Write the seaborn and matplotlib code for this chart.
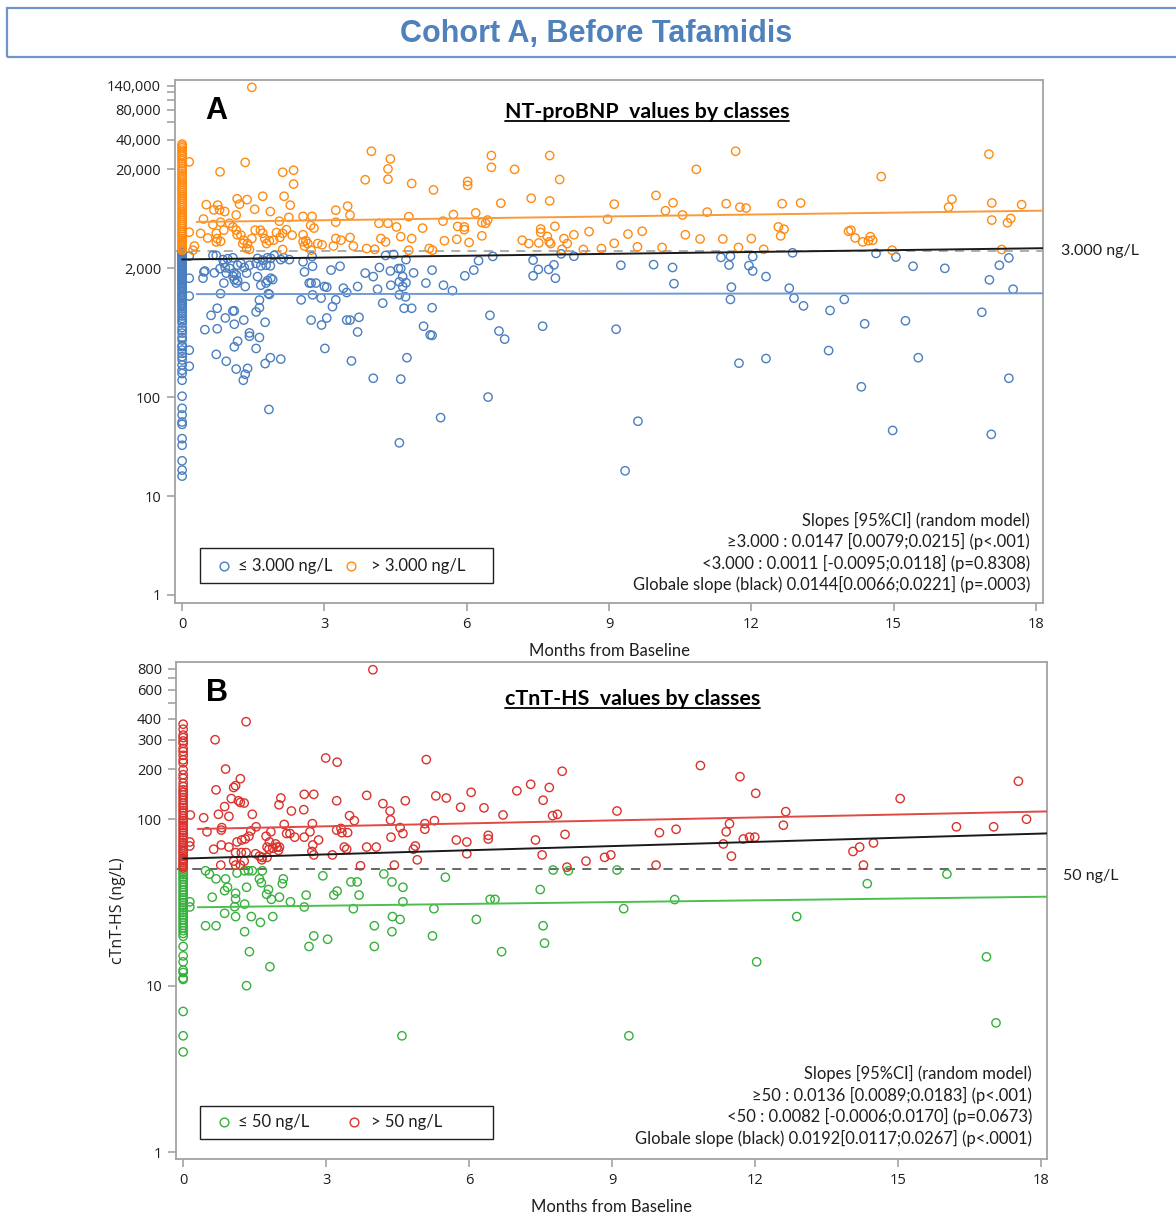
import numpy as np
import pandas as pd
import matplotlib
matplotlib.use("Agg")
import matplotlib.pyplot as plt
from matplotlib.lines import Line2D
from matplotlib.patches import Rectangle
from matplotlib.ticker import NullLocator
import matplotlib.transforms as mtransforms
import seaborn as sns

# ---------------------------------------------------------------- data
# Panel A : NT-proBNP (ng/L) against months from baseline
ntbnp_base_low = [2950, 2880, 2800, 2720, 2640, 2570, 2500, 2430, 2360, 2290, 2220, 2150,
                  2080, 2010, 1950, 1890, 1830, 1770, 1710, 1650, 1600, 1550, 1500, 1450,
                  1400, 1350, 1300, 1250, 1200, 1150, 1100, 1060, 1020, 980, 940, 900, 860,
                  820, 780, 740, 700, 660, 625, 590, 560, 505, 473, 443, 401, 377, 335, 323,
                  298, 277, 256, 237, 211, 187, 173, 148, 102, 77, 66, 56, 53, 38, 32.6,
                  22.7, 18.3, 15.9]
ntbnp_base_high = [36000, 34500, 33000, 31300, 29900, 28300, 27100, 25600, 24500, 23000,
                   21600, 20300, 19300, 18300, 17300, 16500, 15700, 14900, 14200, 13500,
                   12800, 12200, 11600, 11000, 10500, 10000, 9500, 9050, 8600, 8200, 7800,
                   7400, 7050, 6700, 6400, 6100, 5800, 5550, 5300, 5050, 4800, 4600, 4400,
                   4200, 4000, 3850, 3700, 3550, 3400, 3270, 3150, 3050]

ntbnp_low_month = [0.15, 0.65, 0.72, 0.86, 0.96, 1.07, 0.88, 0.46, 0.48, 0.68, 0.8, 0.91, 0.44,
                   0.93, 1.0, 1.09, 1.07, 1.14, 1.17, 1.24, 1.31, 1.1, 1.14, 1.17, 0.88, 1.33,
                   1.36, 1.42, 1.56, 1.59, 1.66, 1.7, 1.77, 1.8, 1.86, 1.87, 1.94, 2.08, 2.14,
                   2.26, 1.59, 1.66, 1.77, 1.8, 1.87, 1.91, 1.82, 1.84, 0.81, 0.74, 0.61, 0.48,
                   0.91, 0.74, 0.72, 0.93, 1.14, 1.29, 1.33, 1.38, 1.42, 1.42, 1.56, 1.56, 1.63,
                   1.63, 1.75, 1.75, 1.86, 2.08, 1.83, 1.07, 1.1, 1.1, 1.17, 1.1, 1.3, 1.63,
                   0.15, 0.15, 0.15, 0.15, 2.51, 2.55, 2.58, 2.68, 2.72, 2.74, 2.75, 2.75, 2.72,
                   2.82, 2.93, 2.94, 3.0, 3.05, 3.01, 3.05, 3.14, 3.17, 3.24, 3.33, 3.4, 3.47,
                   3.47, 3.54, 3.57, 3.7, 3.7, 3.73, 3.86, 4.03, 4.03, 4.12, 4.16, 4.23, 4.29,
                   4.39, 4.4, 4.46, 4.56, 4.58, 4.58, 4.61, 4.65, 4.65, 4.61, 4.68, 4.71, 4.72,
                   4.72, 4.74, 4.84, 4.88, 5.09, 5.14, 5.23, 5.27, 5.27, 5.27, 5.45, 5.51, 5.7,
                   5.96, 6.15, 6.25, 6.45, 6.49, 6.55, 6.68, 6.8, 7.4, 7.4, 7.51, 7.6, 7.73,
                   4.58, 7.84, 7.87, 7.99, 8.26, 9.15, 9.25, 9.34, 9.61, 9.94, 10.34, 10.37,
                   11.36, 11.53, 11.56, 11.95, 12.03, 12.03, 12.31, 11.58, 11.56, 11.74, 12.31,
                   12.8, 12.9, 13.1, 12.87, 13.63, 13.66, 13.96, 14.32, 14.39, 14.63, 15.05,
                   14.98, 15.25, 15.52, 15.41, 16.08, 16.86, 17.02, 17.23, 17.43, 17.52, 17.43,
                   17.06]
ntbnp_low_value = [2660, 2700, 2700, 2450, 2500, 2560, 2250, 1840, 1880, 1800, 1990, 2030, 1590,
                   1790, 2000, 1790, 1670, 1720, 2150, 2240, 2040, 1530, 1420, 1500, 1420, 1310,
                   1790, 2150, 2240, 2520, 2120, 2420, 2150, 2560, 2120, 2520, 2700, 2450, 2560,
                   2450, 1650, 1350, 1420, 1500, 1590, 1540, 1110, 1090, 1110, 790, 670, 480,
                   630, 490, 270, 230, 192, 148, 170, 195, 445, 412, 310, 725, 800,
                   955, 570, 218, 250, 242, 75, 740, 745, 545, 367, 322, 600, 400,
                   1590, 1050, 298, 205, 960, 2330, 1840, 1420, 1420, 2640, 2100, 1080, 600,
                   1420, 1000, 535, 1310, 630, 310, 1290, 1920, 820, 960, 2100, 1260, 1140,
                   600, 600, 232, 1310, 455, 640, 1790, 1650, 155, 1230, 2040, 890, 2700,
                   1880, 1350, 2760, 1990, 1460, 1080, 1990, 1650, 1310, 152, 790, 1030, 1430,
                   2450, 250, 790, 1800, 520, 1420, 425, 1920, 800, 420, 62, 1350, 1190,
                   1680, 1920, 2390, 100, 670, 2640, 465, 385, 2420, 1680, 1950, 520, 1950,
                   34.5, 2170, 1590, 2800, 2650, 485, 2150, 18, 57, 2180, 2040, 1400,
                   2580, 2160, 2650, 2130, 2630, 1880, 1650, 1290, 970, 220, 245,
                   1260, 1000, 835, 2870, 295, 750, 970, 127, 550, 2830, 2600,
                   46, 590, 250, 2100, 2000, 720, 1530, 2150, 2550, 1230, 155,
                   42]

ntbnp_high_month = [1.47, 0.15, 1.33, 0.8, 2.12, 2.35, 2.35, 3.99, 4.39, 4.34, 4.34, 3.86, 4.84,
                    5.3, 6.52, 6.52, 7.01, 6.02, 6.02, 7.75, 7.36, 7.75, 6.72, 1.16, 1.37, 1.21,
                    1.7, 2.15, 2.28, 1.53, 0.51, 0.75, 0.67, 0.9, 0.79, 1.14, 0.45, 0.65, 0.81,
                    1.86, 2.25, 2.55, 2.74, 3.24, 3.49, 3.54, 3.24, 2.71, 2.78, 4.15, 4.34, 4.52,
                    4.78, 5.07, 5.5, 5.72, 5.81, 5.95, 5.95, 6.19, 6.32, 6.4, 6.44, 6.32, 7.56,
                    7.56, 0.15, 0.39, 0.54, 0.72, 0.74, 0.72, 0.81, 0.88, 0.26, 0.23, 1.0, 1.07,
                    1.14, 1.16, 1.24, 1.3, 1.28, 1.38, 1.36, 1.42, 1.47, 1.54, 1.65, 1.7, 1.74,
                    1.78, 1.84, 1.93, 1.99, 2.06, 2.12, 2.2, 2.05, 2.12, 2.32, 2.55, 2.55, 2.58,
                    2.61, 2.65, 2.72, 2.86, 2.95, 3.19, 3.24, 3.35, 3.54, 3.61, 3.89, 4.06, 4.19,
                    4.29, 4.61, 4.84, 4.78, 5.21, 5.28, 5.53, 5.79, 6.05, 7.17, 7.31, 7.52, 7.96,
                    7.86, 7.7, 7.74, 7.77, 8.05, 8.12, 8.01, 8.26, 8.58, 8.46, 8.84, 8.97, 9.11,
                    9.11, 9.4, 9.6, 9.7, 9.99, 10.19, 10.35, 10.12, 10.55, 10.61, 10.84, 10.92,
                    11.07, 11.4, 11.47, 11.67, 11.76, 11.89, 11.73, 12.0, 12.26, 12.57, 12.69,
                    12.62, 12.65, 13.04, 14.05, 14.1, 14.19, 14.35, 14.51, 14.47, 14.56, 14.74,
                    14.97, 16.16, 16.23, 17.01, 17.07, 17.07, 17.4, 17.47, 17.28, 17.7]
ntbnp_high_value = [135000, 23800, 23500, 18900, 18700, 19600, 14200, 30500, 25500, 20200, 15900,
                    15700, 14400, 12400, 27600, 21000, 20000, 15100, 13800, 27600, 10200, 9600,
                    9100, 10100, 9900, 8900, 10700, 10700, 8700, 7900, 8800, 8700, 7800, 7500,
                    7800, 6920, 6300, 5530, 5850, 7500, 6550, 6700, 6700, 7740, 8500, 6900,
                    5850, 5430, 5100, 5700, 5700, 5240, 6660, 5100, 6000, 6990, 5300, 5240,
                    4920, 7260, 5800, 5700, 6150, 4260, 5000, 4600, 4640, 4510, 4050, 4520,
                    4000, 3700, 3750, 4860, 3360, 3050, 5700, 5240, 4860, 4370, 4330, 3850,
                    3560, 3560, 3170, 3100, 4000, 4860, 4860, 4520, 4000, 3560, 3800, 3850,
                    4600, 4100, 4520, 4920, 5990, 3100, 4330, 4370, 3710, 3360, 3800, 3560,
                    3050, 3560, 3460, 3360, 4000, 3850, 4100, 3360, 3170, 3110, 4000, 3700,
                    4180, 4000, 3050, 3170, 3050, 3800, 3930, 3650, 3850, 3560, 3610, 15800,
                    5320, 4200, 3700, 3560, 4000, 3560, 3110, 4370, 4700, 3100, 3170, 6270,
                    8900, 3580, 4440, 3300, 4740, 10900, 7640, 9200, 3250, 6920, 4370, 20000,
                    3960, 7400, 3960, 9000, 30500, 8300, 8130, 3250, 4000, 3110, 5240, 4970,
                    4260, 9000, 9150, 4740, 4860, 4060, 3700, 4180, 3800, 3840, 16900, 3050,
                    8300, 10000, 28500, 9150, 6150, 5770, 6380, 3100, 8800]

# Panel B : cTnT-HS (ng/L) against months from baseline
ctnt_base_low = [49.5, 48, 46.5, 45, 43.5, 42, 40.5, 39, 37.6, 36.3, 35, 33.8, 32.7, 31.5, 30.4,
                 29.4, 28.5, 27.5, 26.6, 25.7, 24.8, 23.9, 23, 22.2, 21.4, 20.6, 19.8, 17.2,
                 15.1, 13.9, 12.4, 12.0, 11.1, 10.9, 7.0, 5.0, 4.0]
ctnt_base_high = [372, 347, 320, 309, 295, 285, 266, 255, 242, 227, 218, 198, 185, 176, 165, 157,
                  150, 145, 140, 135, 130, 125, 121, 117, 113, 109, 105, 101, 98, 95, 92, 89,
                  86, 83, 80, 77.5, 75, 72.5, 70, 68, 66, 64, 62, 60, 58, 56.5, 55, 53.5, 52, 51]

ctnt_low_month = [0.14, 0.14, 0.47, 0.55, 0.69, 0.89, 0.87, 0.93, 1.13, 1.1, 1.1, 1.08, 1.1, 0.87,
                  0.47, 0.69, 0.61, 1.29, 1.33, 1.37, 1.45, 1.6, 1.64, 1.66, 1.75, 1.79, 1.85,
                  1.62, 1.43, 1.88, 2.02, 2.08, 2.1, 1.29, 1.29, 1.39, 1.82, 1.33, 2.25, 2.54,
                  2.58, 2.64, 2.74, 2.93, 3.03, 3.16, 3.23, 3.52, 3.65, 3.57, 3.69, 4.01, 4.01,
                  4.21, 4.38, 4.39, 4.38, 4.55, 4.61, 4.61, 5.26, 5.23, 5.5, 6.15, 6.44, 6.54,
                  6.68, 7.49, 7.55, 7.58, 7.76, 8.08, 9.1, 9.24, 10.31, 12.87, 14.35, 16.02,
                  12.03, 16.85, 17.05, 9.35, 4.59]
ctnt_low_value = [31.9, 29.7, 49, 46.8, 43.8, 43.8, 37.2, 39.0, 47.5, 35.9, 33.2, 29.8, 26, 27.2,
                  22.9, 22.9, 34, 49, 39, 49, 49, 43.8, 41.5, 49, 35.4, 37.8, 33,
                  24, 26, 26, 34, 41, 43.8, 30.9, 21.1, 16.0, 13.0, 10.0, 31.9, 29.7,
                  35, 17.2, 19.9, 45.7, 19.0, 35, 37, 42, 42, 29, 35, 22.9, 17.2,
                  46.9, 42, 26, 21.1, 25, 39, 31.9, 29, 19.9, 44.8, 25, 33, 33,
                  16, 37.8, 22.9, 18, 49.5, 49, 49.5, 29, 32.9, 26, 41, 46.8,
                  13.9, 14.9, 5.98, 5.0, 5.0]

ctnt_high_month = [3.98, 0.67, 1.32, 2.99, 3.23, 5.1, 0.89, 0.69, 1.2, 1.06, 1.1, 1.01, 1.16, 1.2,
                   1.28, 0.87, 0.74, 0.96, 0.15, 0.43, 0.5, 0.64, 0.81, 0.8, 0.8, 0.96, 0.79, 1.1,
                   1.06, 1.1, 1.2, 1.22, 1.28, 1.32, 1.13, 1.23, 1.3, 1.38, 1.42, 1.45, 1.53,
                   1.52, 1.6, 1.66, 1.65, 1.76, 1.74, 1.76, 1.8, 1.81, 1.84, 1.88, 1.94, 1.97,
                   2.0, 2.02, 2.05, 2.01, 2.12, 2.17, 2.24, 2.27, 2.34, 2.53, 2.54, 2.54, 2.66,
                   2.71, 2.72, 2.7, 2.74, 2.74, 2.84, 3.13, 3.22, 3.22, 3.31, 3.33, 3.38, 3.43,
                   3.45, 3.49, 3.59, 3.72, 3.85, 3.85, 4.05, 4.19, 4.34, 4.35, 4.36, 4.43, 4.55,
                   4.61, 4.66, 4.83, 4.87, 4.91, 5.07, 5.07, 5.27, 5.3, 5.52, 5.73, 5.82, 5.95,
                   5.95, 6.04, 6.31, 6.4, 6.4, 6.71, 7.0, 7.29, 7.39, 7.53, 7.55, 7.68, 7.75,
                   7.85, 7.95, 8.01, 8.05, 8.45, 8.84, 8.97, 9.1, 9.92, 9.99, 10.34, 11.33,
                   11.39, 11.46, 11.5, 11.75, 11.88, 11.99, 12.59, 12.64, 14.05, 14.19, 14.48,
                   14.27, 16.22, 17.0, 17.69, 10.85, 11.68, 12.01, 15.04, 17.52, 0.14, 0.14]
ctnt_high_value = [790, 300, 385, 233, 220, 228, 200, 150, 175, 155, 159, 133, 129, 126,
                   125, 119, 107, 104, 106, 102, 84, 66, 89, 86, 70, 68, 53, 63,
                   56, 53, 53, 63, 56, 63, 73, 75, 76, 79, 85, 107, 90,
                   62, 60, 59, 57, 59, 79, 68, 66, 73, 84, 67, 71, 68,
                   65, 68, 134, 122, 93, 82, 82, 112, 78, 114, 78, 141, 84,
                   94, 70, 64, 61, 141, 75, 61, 86, 129, 88, 83, 68, 66,
                   83, 105, 98, 52.5, 139, 68, 68, 124, 112, 99, 78, 53, 89,
                   82, 129, 66, 69, 57, 94, 87, 98, 138, 134, 75, 118, 73,
                   62, 145, 117, 80, 76, 106, 148, 162, 75, 61, 130, 155, 105,
                   107, 194, 81, 51.5, 56, 59, 61, 112, 53, 83, 87, 71,
                   84, 94, 60, 76, 78, 78, 92, 111, 64, 68, 72,
                   53, 90, 90, 100, 210, 180, 143, 133, 169, 69, 73]

# Mixed-model fits on the log scale: baseline level and slope per month
ntbnp_fit = {"high": (5860, 0.0147), "low": (1097, 0.0011), "all": (2460, 0.0144)}
ctnt_fit = {"high": (87, 0.0136), "low": (29.5, 0.0082), "all": (58, 0.0192)}

ntbnp_threshold = 3000
ctnt_threshold = 50

month_ticks = [0, 3, 6, 9, 12, 15, 18]
ntbnp_ticks = [1, 10, 100, 2000, 20000, 40000, 60000, 80000, 100000, 120000, 140000]
ntbnp_tick_labels = ["1", "10", "100", "2,000", "20,000", "40,000", "", "80,000", "", "", "140,000"]
ctnt_ticks = [1, 10, 100, 200, 300, 400, 500, 600, 700, 800]
ctnt_tick_labels = ["1", "10", "100", "200", "300", "400", "", "600", "", "800"]

ntbnp_classes = ["\u2264 3.000 ng/L", "> 3.000 ng/L"]
ctnt_classes = ["\u2264 50 ng/L", "> 50 ng/L"]

ntbnp_notes = ["Slopes [95%CI] (random model)",
               "\u22653.000 : 0.0147 [0.0079;0.0215] (p<.001)",
               "<3.000 : 0.0011 [-0.0095;0.0118] (p=0.8308)",
               "Globale slope (black) 0.0144[0.0066;0.0221] (p=.0003)"]
ctnt_notes = ["Slopes [95%CI] (random model)",
              "\u226550 : 0.0136 [0.0089;0.0183] (p<.001)",
              "<50 : 0.0082 [-0.0006;0.0170] (p=0.0673)",
              "Globale slope (black) 0.0192[0.0117;0.0267] (p<.0001)"]

# ---------------------------------------------------------------- style
sns.set_theme(style="white")
plt.rcParams["font.family"] = ["Lato", "DejaVu Sans"]
plt.rcParams["axes.linewidth"] = 1.3

BLUE, ORANGE = "#4a7ec1", "#ff8a12"
GREEN, RED = "#36b03c", "#d9322c"
SPINE = "#a3a3a3"
TEXT = "#1e1e1e"
TICK_FONT = ["Open Sans", "DejaVu Sans"]

fig = plt.figure(figsize=(11.76, 12.14), dpi=100)
ax_a = fig.add_axes([0.14881, 0.50329, 0.73810, 0.43081])
ax_b = fig.add_axes([0.14966, 0.04506, 0.74065, 0.40989])


def draw_panel(ax, base_low, base_high, low_t, low_v, high_t, high_v,
               c_low, c_high, fit, line_colors, thr, thr_color, xlim, ylim):
    rows = []
    for v in base_low:
        rows.append((0.0, v, "low"))
    for t, v in zip(low_t, low_v):
        rows.append((t, v, "low"))
    for v in base_high:
        rows.append((0.0, v, "high"))
    for t, v in zip(high_t, high_v):
        rows.append((t, v, "high"))
    df = pd.DataFrame(rows, columns=["month", "value", "group"])

    sns.scatterplot(data=df, x="month", y="value", hue="group",
                    palette={"low": c_low, "high": c_high}, s=36,
                    linewidth=1.0, legend=False, ax=ax, zorder=3)
    for coll in ax.collections:
        fc = coll.get_facecolors()
        coll.set_edgecolors(fc)
        coll.set_facecolors("none")

    ax.set_yscale("log")
    ax.set_xlim(*xlim)
    ax.set_ylim(*ylim)

    ax.axhline(thr, color=thr_color, lw=1.3, ls=(0, (5, 4)), zorder=2)

    grid = np.linspace(0, xlim[1], 60)
    for key, col, start in (("high", line_colors[0], 0.1),
                            ("low", line_colors[1], 0.1),
                            ("all", "#1a1a1a", 0.0)):
        level, slope = fit[key]
        g = grid[grid >= start]
        sns.lineplot(x=g, y=level * np.exp(slope * g), color=col, lw=1.4,
                     ax=ax, zorder=4)

    for side in ("left", "right", "top", "bottom"):
        ax.spines[side].set_color(SPINE)
        ax.spines[side].set_linewidth(1.3)
        ax.spines[side].set_visible(True)
    ax.yaxis.set_minor_locator(NullLocator())
    ax.set_xticks(month_ticks)
    ax.set_xticklabels([str(m) for m in month_ticks])
    ax.tick_params(axis="both", which="major", direction="out", length=6,
                   width=1.2, color=SPINE, labelcolor=TEXT, labelsize=10.5, pad=4,
                   bottom=True, left=True)
    ax.set_xlabel("Months from Baseline", fontsize=12, color=TEXT, labelpad=8)
    ax.set_ylabel("")


def class_legend(ax, labels, colors, px_to_axes, box, markers_x, texts_x, yc):
    # framed key drawn in axes coordinates from pixel positions
    x0, y0 = px_to_axes(box[0], box[3])
    x1, y1 = px_to_axes(box[2], box[1])
    ax.add_patch(Rectangle((x0, y0), x1 - x0, y1 - y0, transform=ax.transAxes,
                           facecolor="white", edgecolor="#202020", lw=1.0,
                           zorder=6, clip_on=False))
    for lab, col, mx, tx in zip(labels, colors, markers_x, texts_x):
        ax_mx, ax_y = px_to_axes(mx, yc)
        ax_tx, _ = px_to_axes(tx, yc)
        ax.add_line(Line2D([ax_mx], [ax_y], transform=ax.transAxes, marker="o",
                           linestyle="none", markerfacecolor="none",
                           markeredgecolor=col, markeredgewidth=1.0,
                           markersize=6.3, zorder=7))
        ax.text(ax_tx, ax_y, lab, transform=ax.transAxes, ha="left", va="center",
                fontsize=12, color=TEXT, zorder=7)


draw_panel(ax_a, ntbnp_base_low, ntbnp_base_high, ntbnp_low_month, ntbnp_low_value,
           ntbnp_high_month, ntbnp_high_value, BLUE, ORANGE, ntbnp_fit,
           ("#f99a3a", "#6f98d4"), ntbnp_threshold, "#a8a8a8",
           (-0.15, 18.15), (0.83, 160000))
ax_a.set_yticks(ntbnp_ticks)
ax_a.set_yticklabels(ntbnp_tick_labels)

draw_panel(ax_b, ctnt_base_low, ctnt_base_high, ctnt_low_month, ctnt_low_value,
           ctnt_high_month, ctnt_high_value, GREEN, RED, ctnt_fit,
           ("#df4a44", "#4cbf4f"), ctnt_threshold, "#5a5a5a",
           (-0.15, 18.12), (0.906, 883))
ax_b.set_yticks(ctnt_ticks)
ax_b.set_yticklabels(ctnt_tick_labels)
ax_b.set_ylabel("cTnT-HS (ng/L)", fontsize=11.5, color=TEXT, labelpad=8,
                fontfamily=TICK_FONT)

for ax in (ax_a, ax_b):
    for lab in ax.get_xticklabels() + ax.get_yticklabels():
        lab.set_fontfamily(TICK_FONT)
        lab.set_fontsize(10.5)
        lab.set_color(TEXT)

# panel letters and titles
ax_a.text(0.047, 0.94, "A", transform=ax_a.transAxes, ha="center", va="center",
          fontsize=22, fontweight="bold", fontfamily="Liberation Sans", color="black")
ax_b.text(0.047, 0.937, "B", transform=ax_b.transAxes, ha="center", va="center",
          fontsize=22, fontweight="bold", fontfamily="Liberation Sans", color="black")
title_a = ax_a.text(0.544, 0.939, "NT-proBNP  values by classes", transform=ax_a.transAxes,
                    ha="center", va="center", fontsize=15.4, fontweight="bold", color="black")
title_b = ax_b.text(0.524, 0.925, "cTnT-HS  values by classes", transform=ax_b.transAxes,
                    ha="center", va="center", fontsize=15.4, fontweight="bold", color="black")

# threshold labels outside the frame
ax_a.text(1.0207, ntbnp_threshold, "3.000 ng/L",
          transform=mtransforms.blended_transform_factory(ax_a.transAxes, ax_a.transData),
          ha="left", va="center", fontsize=11.5, color=TEXT)
ax_b.text(1.018, 45.5, "50 ng/L",
          transform=mtransforms.blended_transform_factory(ax_b.transAxes, ax_b.transData),
          ha="left", va="center", fontsize=11.5, color=TEXT)

# slope summaries
for ax, notes, x, ys in ((ax_a, ntbnp_notes, 0.985, (0.1587, 0.1185, 0.0765, 0.0363)),
                         (ax_b, ctnt_notes, 0.983, (0.1734, 0.1292, 0.0870, 0.0428))):
    for line, y in zip(notes, ys):
        ax.text(x, y, line, transform=ax.transAxes, ha="right", va="center",
                fontsize=11.9, color=TEXT)

# class keys
class_legend(ax_a, ntbnp_classes, [BLUE, ORANGE],
             lambda px, py: ((px - 175) / 868, (603 - py) / 523),
             (200, 548, 493, 583), (224, 351), (238, 371), 566)
class_legend(ax_b, ctnt_classes, [GREEN, RED],
             lambda px, py: ((px - 176) / 871, (1159.3 - py) / 497.6),
             (200, 1106, 493, 1139), (224, 354), (238, 371), 1122)

# heading box
fig.patches.append(Rectangle((7 / 1176, 1 - 57 / 1214), 1.02, 49 / 1214,
                             transform=fig.transFigure, fill=False,
                             edgecolor="#6f94c9", linewidth=1.6))
fig.text(596 / 1176, 1 - 34 / 1214, "Cohort A, Before Tafamidis", ha="center",
         va="center", fontsize=22, fontweight="bold", color="#4f81bd",
         fontfamily="Liberation Sans")

# underline the panel titles
fig.canvas.draw()
renderer = fig.canvas.get_renderer()
W, H = fig.bbox.width, fig.bbox.height
for t in (title_a, title_b):
    bb = t.get_window_extent(renderer)
    yline = bb.y0 + 1
    fig.add_artist(Line2D([bb.x0 / W, bb.x1 / W], [yline / H, yline / H],
                          transform=fig.transFigure, color="black", lw=1.3))

fig.savefig("out.png", dpi=100)
